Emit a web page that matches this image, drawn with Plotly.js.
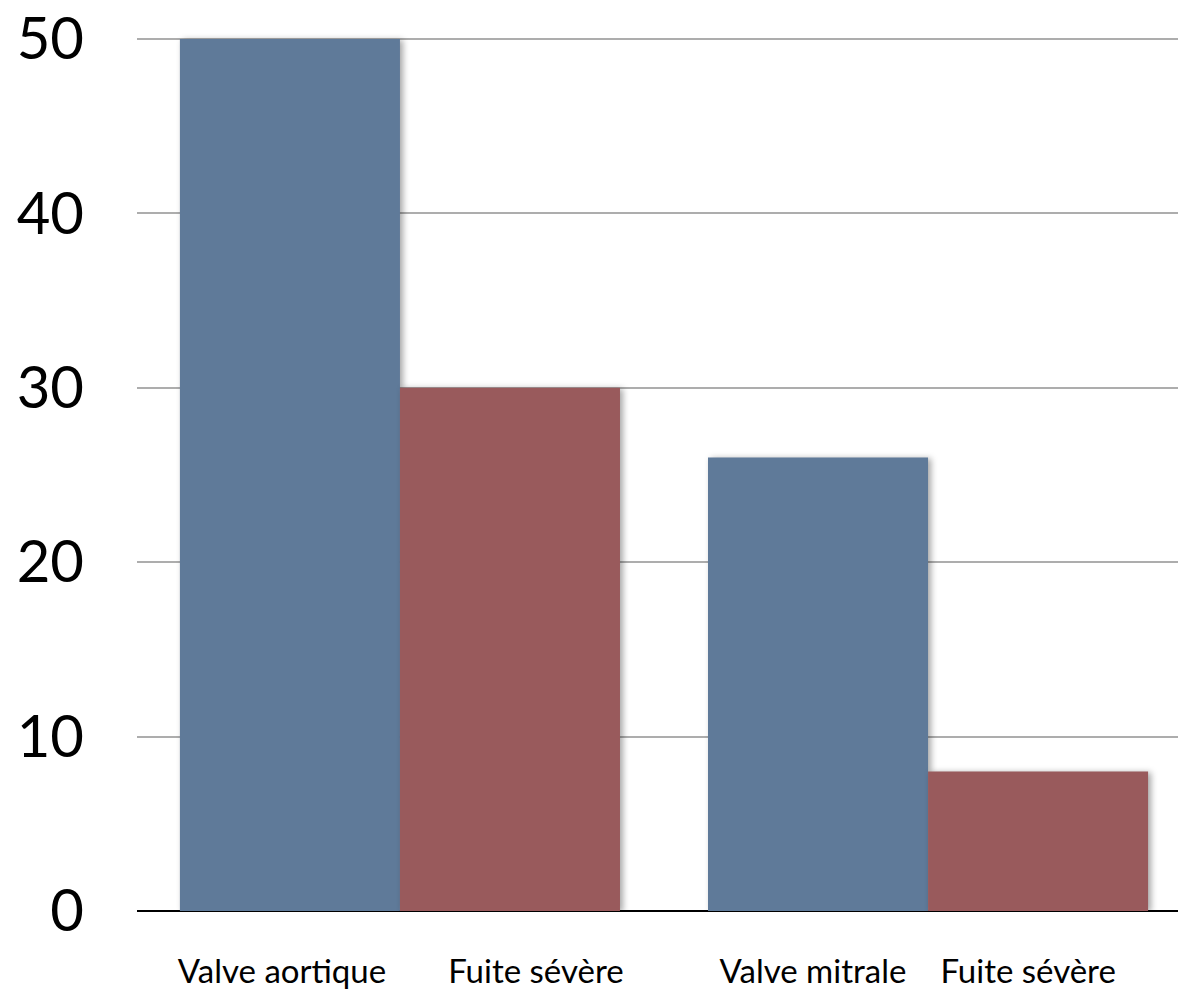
<!DOCTYPE html>
<html>
<head>
<meta charset="utf-8">
<script src="https://cdn.plot.ly/plotly-3.0.1.min.js"></script>
<style>
  html, body { margin: 0; padding: 0; background: #ffffff; }
  #chart { width: 1178px; height: 993px; }
  .barlayer .point path { filter: drop-shadow(3px 1px 3px rgba(0,0,0,0.35)); }
</style>
</head>
<body>
<div id="chart"></div>
<script>
// Data
const categories = ["Valve aortique", "Fuite sévère", "Valve mitrale", "Fuite sévère"];
const valveLabels = ["Valve aortique", "Valve mitrale"];
const fuiteLabels = ["Fuite sévère", "Fuite sévère"];
const valveValues = [50, 26];
const fuiteValues = [30, 8];

// Layout positions (bar slots along the x axis)
const valvePos = [0, 2.4];
const fuitePos = [1, 3.4];
// label anchors, slightly offset from bar centres as in the original
const tickPos = [-0.036, 1.118, 2.377, 3.355];

const fontFamily = "Lato, 'Open Sans', sans-serif";

const traces = [
  {
    type: "bar",
    name: "Valve",
    x: valvePos,
    y: valveValues,
    text: valveLabels,
    hoverinfo: "text+y",
    textposition: "none",
    width: 1,
    marker: { color: "#5f7a99", line: { width: 0 } }
  },
  {
    type: "bar",
    name: "Fuite sévère",
    x: fuitePos,
    y: fuiteValues,
    text: fuiteLabels,
    hoverinfo: "text+y",
    textposition: "none",
    width: 1,
    marker: { color: "#995a5c", line: { width: 0 } }
  }
];

const layout = {
  width: 1178,
  height: 993,
  margin: { l: 137, r: 0, t: 4, b: 82, pad: 0 },
  paper_bgcolor: "#ffffff",
  plot_bgcolor: "#ffffff",
  barmode: "overlay",
  showlegend: false,
  font: { family: fontFamily, color: "#000000" },
  xaxis: {
    range: [-0.695, 4.036],
    tickmode: "array",
    tickvals: tickPos,
    ticktext: categories,
    showgrid: false,
    zeroline: false,
    showline: false,
    ticks: "",
    ticklabelstandoff: 38,
    tickfont: { family: fontFamily, size: 33, color: "#000000" }
  },
  yaxis: {
    range: [0, 52],
    tickmode: "array",
    tickvals: [0, 10, 20, 30, 40, 50],
    ticktext: ["0", "10", "20", "30", "40", "50"],
    showgrid: true,
    gridcolor: "#adadad",
    gridwidth: 2,
    zeroline: true,
    zerolinecolor: "#000000",
    zerolinewidth: 2.5,
    showline: false,
    ticks: "",
    ticklabelstandoff: 52,
    tickfont: { family: fontFamily, size: 58, color: "#000000" }
  }
};

Plotly.newPlot("chart", traces, layout, { displayModeBar: false, staticPlot: true });
</script>
</body>
</html>
